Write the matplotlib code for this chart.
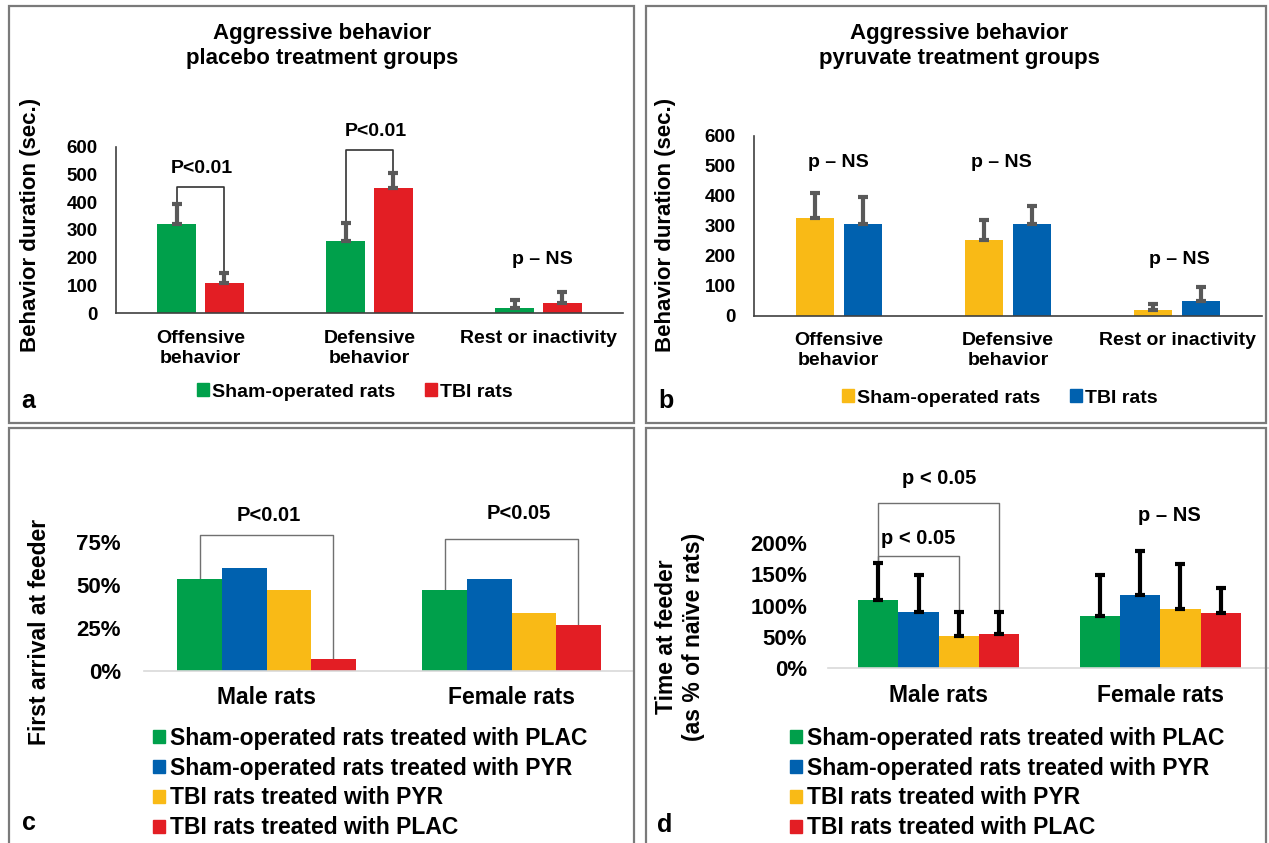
import numpy as np
import matplotlib
matplotlib.use("Agg")
import matplotlib.pyplot as plt
from matplotlib.patches import Rectangle, Patch

plt.rcParams['font.family'] = ['Liberation Sans', 'DejaVu Sans']
plt.rcParams['font.weight'] = 'bold'

W, H = 1269, 843

# ---- data ----
behav_cats = ['Offensive\nbehavior', 'Defensive\nbehavior', 'Rest or inactivity']
sex_cats = ['Male rats', 'Female rats']

# panel a: placebo groups (sec.)
a_sham = [320, 259, 20]
a_sham_err = [73, 67, 28]
a_tbi = [108, 452, 36]
a_tbi_err = [38, 52, 40]
a_bracket_top = [454, 588]
a_labels = ['P<0.01', 'P<0.01', 'p – NS']
a_label_y = [522, 654, 192]

# panel b: pyruvate groups (sec.)
b_sham = [327, 252, 19]
b_sham_err = [81, 67, 20]
b_tbi = [304, 304, 50]
b_tbi_err = [93, 63, 47]
b_labels = ['p – NS', 'p – NS', 'p – NS']
b_label_y = [510, 510, 186]

# panel c: first arrival at feeder (%)
group_names = ['Sham-operated rats treated with PLAC', 'Sham-operated rats treated with PYR',
               'TBI rats treated with PYR', 'TBI rats treated with PLAC']
c_male = [53.3, 60.0, 46.7, 6.7]
c_female = [46.7, 53.3, 33.3, 26.7]
c_bracket_top = [79, 76.5]
c_labels = ['P<0.01', 'P<0.05']
c_label_y = [90.5, 91.5]

# panel d: time at feeder (% of naive rats)
d_male = [109, 90, 51, 55]
d_male_err = [58, 59, 39, 34]
d_female = [83, 117, 94, 88]
d_female_err = [65, 70, 72, 40]
d_bracket_top = [179, 264]   # green->yellow, green->red (male)
d_labels = ['p < 0.05', 'p < 0.05', 'p – NS']
d_label_y = [206, 302, 244]

green, red, yellow, blue = '#00A04B', '#E31E24', '#F9BA16', '#0061AF'
four_colors = [green, blue, yellow, red]

fig = plt.figure(figsize=(W / 100, H / 100), dpi=100)


def px_axes(left, top, right, bottom):
    return fig.add_axes([left / W, 1 - bottom / H, (right - left) / W, (bottom - top) / H])


def fx(x):
    return x / W


def fy(y):
    return 1 - y / H


# panel frames
for (l, t, r, b) in [(9, 6, 634, 423), (646, 6, 1266, 423), (9, 428, 634, 846), (646, 428, 1266, 846)]:
    fig.patches.append(Rectangle((fx(l), fy(b)), fx(r - l), (b - t) / H, transform=fig.transFigure,
                                 fill=False, edgecolor='#7a7a7a', lw=1.6))


def two_bar_panel(ax, sham, sham_err, tbi, tbi_err, c1, c2):
    x = np.arange(len(behav_cats))
    off, w = 0.142, 0.225
    ax.bar(x - off, sham, w, color=c1, zorder=2)
    ax.bar(x + off, tbi, w, color=c2, zorder=2)
    for xs, v, e in [(x - off, sham, sham_err), (x + off, tbi, tbi_err)]:
        ax.errorbar(xs, v, yerr=[np.zeros(3), e], fmt='none', ecolor='#595959',
                    elinewidth=3, capsize=3.5, capthick=3, zorder=3)
    ax.set_xlim(-0.5, 2.5)
    ax.set_ylim(0, 600)
    ax.set_yticks(range(0, 601, 100))
    ax.tick_params(axis='y', length=0, pad=13, labelsize=13.5)
    ax.set_xticks(x, behav_cats)
    ax.tick_params(axis='x', length=0, pad=12, labelsize=14)
    for s in ['top', 'right']:
        ax.spines[s].set_visible(False)
    for s in ['left', 'bottom']:
        ax.spines[s].set_color('#404040')
        ax.spines[s].set_linewidth(1.2)
    ax.set_facecolor('none')
    return x, off


# ---- panel a ----
ax_a = px_axes(116, 146.7, 623, 313.3)
xa, off = two_bar_panel(ax_a, a_sham, a_sham_err, a_tbi, a_tbi_err, green, red)
for i in range(2):
    y1 = a_sham[i] + a_sham_err[i]
    y2 = a_tbi[i] + a_tbi_err[i]
    ax_a.plot([xa[i] - off, xa[i] - off, xa[i] + off, xa[i] + off],
              [y1, a_bracket_top[i], a_bracket_top[i], y2], color='#333333', lw=1.2,
              clip_on=False, zorder=1)
for i in range(3):
    ax_a.text(xa[i] + [0.01, 0.04, 0.02][i], a_label_y[i], a_labels[i], ha='center', va='center',
              fontsize=14, clip_on=False)

# ---- panel b ----
ax_b = px_axes(754, 135.7, 1262, 315.7)
xb, off = two_bar_panel(ax_b, b_sham, b_sham_err, b_tbi, b_tbi_err, yellow, blue)
for i in range(3):
    ax_b.text(xb[i] + [0.0, -0.04, 0.01][i], b_label_y[i], b_labels[i], ha='center', va='center',
              fontsize=14, clip_on=False)

# titles, y labels, legends for a and b
for cx, line2 in [(322, 'placebo treatment groups'), (959, 'pyruvate treatment groups')]:
    fig.text(fx(cx), fy(39.5), 'Aggressive behavior', ha='center', va='baseline', fontsize=16)
    fig.text(fx(cx), fy(64), line2, ha='center', va='baseline', fontsize=16)
fig.text(fx(31), fy(225), 'Behavior duration (sec.)', rotation=90, ha='center', va='center', fontsize=16)
fig.text(fx(666), fy(225), 'Behavior duration (sec.)', rotation=90, ha='center', va='center', fontsize=16)

for cx, cy, c1, c2 in [(355, 392, green, red), (1000, 398, yellow, blue)]:
    fig.legend(handles=[Patch(color=c1), Patch(color=c2)], labels=['Sham-operated rats', 'TBI rats'],
               loc='center', bbox_to_anchor=(fx(cx), fy(cy)), ncol=2, frameon=False, fontsize=14,
               handlelength=0.6, handleheight=0.6, handletextpad=0.2, columnspacing=1.5,
               borderpad=0, borderaxespad=0)


def four_bar_panel(ax, male, female, ylim, ticks, pad):
    x = np.arange(len(sex_cats))
    w = 0.182
    offs = (np.arange(4) - 1.5) * w
    for k in range(4):
        ax.bar(x + offs[k], [male[k], female[k]], w, color=four_colors[k], zorder=2)
    ax.set_xlim(-0.5, 1.5)
    ax.set_ylim(0, ylim)
    ax.set_yticks(ticks, [f'{t}%' for t in ticks])
    ax.tick_params(axis='y', length=0, pad=pad, labelsize=16)
    ax.set_xticks(x, sex_cats)
    ax.tick_params(axis='x', length=0, pad=11, labelsize=16.5)
    for s in ['top', 'right', 'left']:
        ax.spines[s].set_visible(False)
    ax.spines['bottom'].set_color('#d9d9d9')
    ax.spines['bottom'].set_linewidth(1.2)
    ax.set_facecolor('none')
    return x, offs


# ---- panel c ----
ax_c = px_axes(144, 498.7, 634, 670.7)
xc, offs = four_bar_panel(ax_c, c_male, c_female, 100, [0, 25, 50, 75], 16.5)
for i, vals in enumerate([c_male, c_female]):
    xl, xr = xc[i] + offs[0], xc[i] + offs[3]
    ax_c.plot([xl, xl, xr, xr], [vals[0], c_bracket_top[i], c_bracket_top[i], vals[3]],
              color='#707070', lw=1.0, clip_on=False, zorder=1)
    ax_c.text(xc[i] + [0.01, 0.03][i], c_label_y[i], c_labels[i], ha='center', va='center',
              fontsize=14.5, clip_on=False)

# ---- panel d ----
ax_d = px_axes(828, 542.7, 1271, 668.3)
xd, offs = four_bar_panel(ax_d, d_male, d_female, 200, [0, 50, 100, 150, 200], 15)
for i, (vals, errs) in enumerate([(d_male, d_male_err), (d_female, d_female_err)]):
    ax_d.errorbar(xd[i] + offs, vals, yerr=[np.zeros(4), errs], fmt='none', ecolor='black',
                  elinewidth=3, capsize=3.5, capthick=3, zorder=3)
tops = [v + e for v, e in zip(d_male, d_male_err)]
for j, k in enumerate([2, 3]):
    xl, xr = xd[0] + offs[0], xd[0] + offs[k]
    ax_d.plot([xl, xl, xr, xr], [tops[0], d_bracket_top[j], d_bracket_top[j], tops[k]],
              color='#707070', lw=1.0, clip_on=False, zorder=1)
for lx, ly, lab in zip([-0.094, 0.0, 1.04], d_label_y, d_labels):
    ax_d.text(lx, ly, lab, ha='center', va='center', fontsize=14.5, clip_on=False)

fig.text(fx(40), fy(632), 'First arrival at feeder', rotation=90, ha='center', va='center', fontsize=16.5)
fig.text(fx(680), fy(637), 'Time at feeder\n(as % of naïve rats)', rotation=90, ha='center', va='center',
         fontsize=16.5, linespacing=1.2)

for lx in [153, 790]:
    fig.legend(handles=[Patch(color=c) for c in four_colors], labels=group_names,
               loc='center left', bbox_to_anchor=(fx(lx), fy(783)), frameon=False, fontsize=16.5,
               handlelength=0.52, handleheight=0.52, handletextpad=0.22, labelspacing=0.3,
               borderpad=0, borderaxespad=0)

# panel letters
for lx, ly, letter in [(21, 408, 'a'), (658, 408, 'b'), (22, 830, 'c'), (657, 832, 'd')]:
    fig.text(fx(lx), fy(ly), letter, ha='left', va='baseline', fontsize=18)

fig.savefig('out.png', dpi=100)
